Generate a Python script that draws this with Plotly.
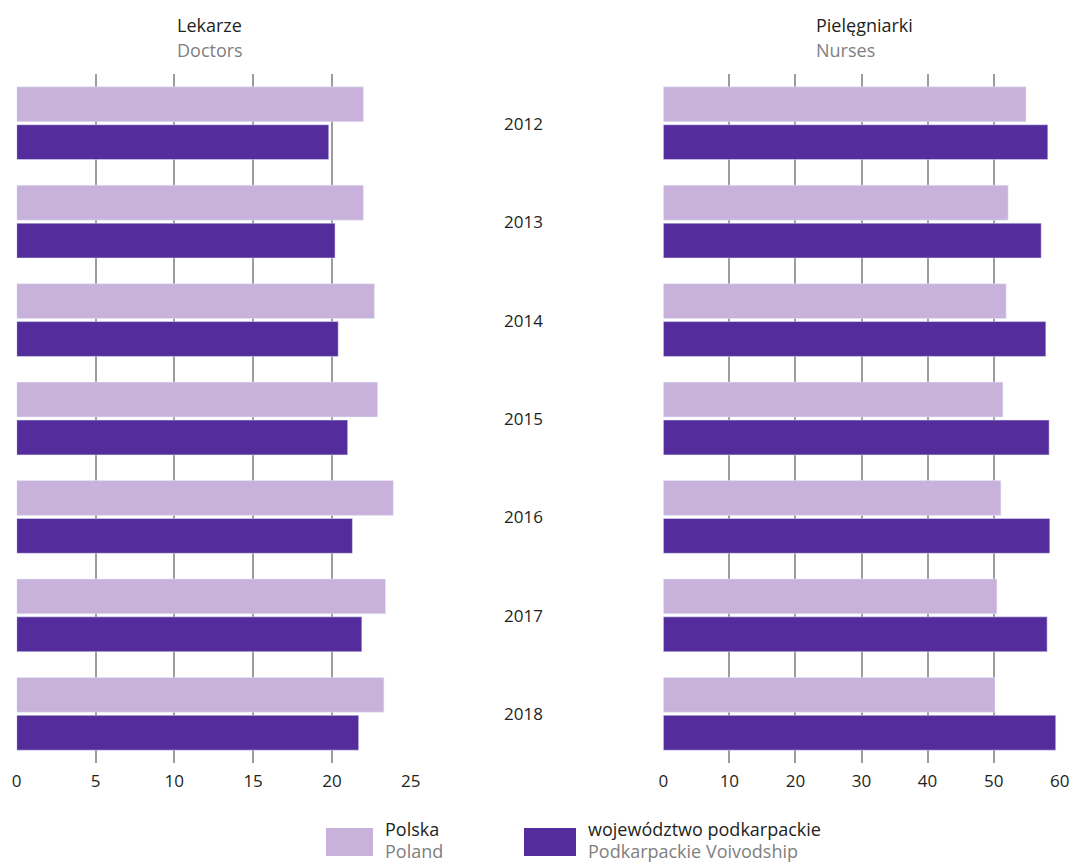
import plotly.graph_objects as go
from plotly.subplots import make_subplots

years = ['2012', '2013', '2014', '2015', '2016', '2017', '2018']
# lekarze / doctors per 10k population
doctors_pl = [22.0, 22.0, 22.7, 22.9, 23.9, 23.4, 23.3]
doctors_pk = [19.8, 20.2, 20.4, 21.0, 21.3, 21.9, 21.7]
# pielegniarki / nurses
nurses_pl = [54.9, 52.2, 51.9, 51.4, 51.1, 50.5, 50.2]
nurses_pk = [58.2, 57.2, 57.9, 58.4, 58.5, 58.1, 59.4]

light = '#c8b2dc'
dark = '#542c9c'
grid = '#9c9c9c'
font = 'Open Sans'

W, H = 1073, 863

def px_x(x):
    return x / W

def px_y(y):
    return 1 - y / H

fig = make_subplots(rows=1, cols=2)

fig.add_trace(go.Bar(y=years, x=doctors_pl, orientation='h', marker_color=light,
                     name='Polska', showlegend=False), row=1, col=1)
fig.add_trace(go.Bar(y=years, x=doctors_pk, orientation='h', marker_color=dark,
                     name='województwo podkarpackie', showlegend=False), row=1, col=1)
fig.add_trace(go.Bar(y=years, x=nurses_pl, orientation='h', marker_color=light,
                     name='Polska', showlegend=False), row=1, col=2)
fig.add_trace(go.Bar(y=years, x=nurses_pk, orientation='h', marker_color=dark,
                     name='województwo podkarpackie', showlegend=False), row=1, col=2)

ydom = [px_y(763), px_y(74)]
axis_common = dict(showgrid=True, gridcolor=grid, gridwidth=1.5, zeroline=False,
                   showline=False, ticks='', tickfont=dict(size=17, color='#231f20'),
                   ticklabelstandoff=6, fixedrange=True, automargin=False)

fig.update_xaxes(domain=[px_x(16.7), px_x(410.7)], range=[0, 25], dtick=5, row=1, col=1, **axis_common)
fig.update_xaxes(domain=[px_x(663.3), px_x(1059.7)], range=[0, 60], dtick=10, row=1, col=2, **axis_common)
fig.update_yaxes(domain=ydom, type='category', range=[len(years) - 0.5, -0.5], showticklabels=False,
                 showgrid=False, zeroline=False, showline=False, automargin=False)

ann = []
for x0, top, bottom in [(175, 'Lekarze', 'Doctors'), (814, 'Pielęgniarki', 'Nurses')]:
    ann.append(dict(x=px_x(x0), y=px_y(25), text=top, font=dict(color='#231f20', size=18)))
    ann.append(dict(x=px_x(x0), y=px_y(50), text=bottom, font=dict(color='#808080', size=18)))
for i, yr in enumerate(years):
    ann.append(dict(x=px_x(523), y=i, xref='paper', yref='y2', text=yr, xanchor='center',
                    font=dict(color='#231f20', size=17)))

# legend
shapes = []
for x0, x1, top, bottom, c in [(326, 373, 'Polska', 'Poland', light),
                                (524, 576, 'województwo podkarpackie', 'Podkarpackie Voivodship', dark)]:
    shapes.append(dict(type='rect', xref='paper', yref='paper', x0=px_x(x0), x1=px_x(x1),
                       y0=px_y(856), y1=px_y(828), fillcolor=c, line_width=0))
    ann.append(dict(x=px_x(x1 + 10), y=px_y(829), text=top, font=dict(color='#231f20', size=18)))
    ann.append(dict(x=px_x(x1 + 10), y=px_y(851), text=bottom, font=dict(color='#808080', size=18)))

for a in ann:
    a.setdefault('xref', 'paper')
    a.setdefault('yref', 'paper')
    a.setdefault('xanchor', 'left')
    a['yanchor'] = 'middle'
    a['showarrow'] = False

fig.update_layout(
    width=W, height=H,
    margin=dict(l=0, r=0, t=0, b=0, autoexpand=False),
    barmode='group', bargap=0.23, bargroupgap=0.08,
    plot_bgcolor='white', paper_bgcolor='white',
    font_family=font,
    annotations=ann, shapes=shapes,
    showlegend=False,
)

# page body has a default 8px margin; drop it so the figure sits at the window corner
fig.write_html("out.html", config={'displayModeBar': False},
               post_script="document.body.style.margin='0';")
